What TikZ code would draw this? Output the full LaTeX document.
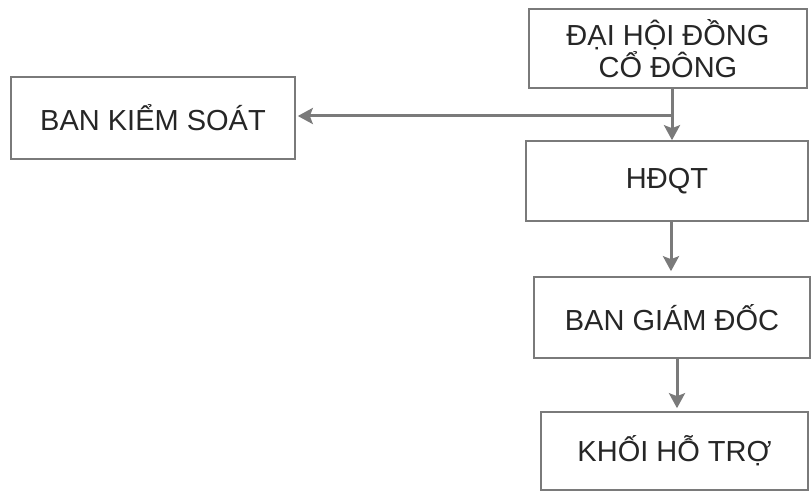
\documentclass[tikz,border=0pt]{standalone}
\usepackage{fontspec}
\setmainfont{Liberation Sans}
\usetikzlibrary{arrows.meta,positioning}

\definecolor{linegray}{HTML}{7A7A7A}
\definecolor{textgray}{HTML}{262626}

\tikzset{
  box/.style={draw=linegray, line width=1.6pt, minimum height=80pt,
    align=center, text=textgray, font=\fontsize{29}{30}\selectfont},
  link/.style={draw=linegray, line width=3pt, -{Stealth[length=15pt,width=16pt,inset=3pt]}}
}

\begin{document}
\begin{tikzpicture}[x=1pt, y=-1pt]
  \useasboundingbox (0,0) rectangle (812,494);
  \node[box, minimum width=278pt, minimum height=79pt] (dh) at (668,48.5) {ĐẠI HỘI ĐỒNG\\CỔ ĐÔNG};
  \node[box, minimum width=284pt, minimum height=82pt] (bks) at (153,118) {BAN KIỂM SOÁT};
  \node[box, minimum width=282pt] (hdqt) at (667,181) {HĐQT};
  \node[box, minimum width=276pt, minimum height=81pt] (bgd) at (672,317.5) {BAN GIÁM ĐỐC};
  \node[box, minimum width=267pt, minimum height=78pt] (kht) at (674.5,451) {KHỐI HỖ TRỢ};
  % nhanh sang ban kiem soat
  \coordinate (br) at ([xshift=4pt,yshift=2pt]dh.south |- bks.east);
  \draw[link] ([xshift=4pt]dh.south) -- ([xshift=4pt]dh.south |- hdqt.north);
  \draw[link, shorten >=2pt] (br) -- (br -| bks.east);
  \draw[link, shorten >=5pt] ([xshift=4pt]hdqt.south) -- ([xshift=4pt]hdqt.south |- bgd.north);
  \draw[link, shorten >=3pt] ([xshift=5pt]bgd.south) -- ([xshift=5pt]bgd.south |- kht.north);
\end{tikzpicture}
\end{document}
